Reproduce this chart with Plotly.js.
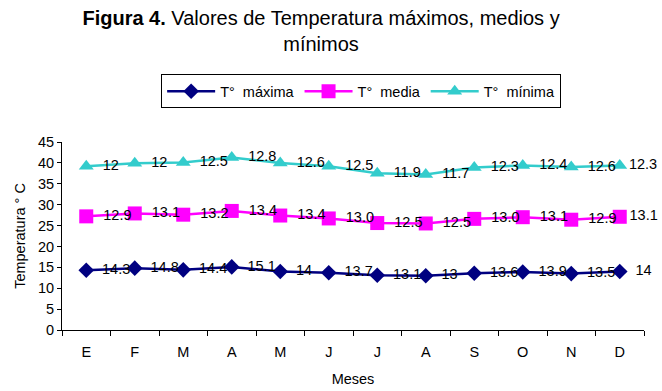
<!DOCTYPE html>
<html>
<head>
<meta charset="utf-8">
<script src="https://cdn.plot.ly/plotly-3.0.1.min.js"></script>
<style>html,body{margin:0;padding:0;background:#fff}</style>
</head>
<body>
<div id="chart" style="width:662px;height:391px"></div>
<script>
// Meses del año (claves únicas para el eje de categorías y texto visible)
const meses = ['E', 'F', 'M', 'A', 'M ', 'J', 'J ', 'A ', 'S', 'O', 'N', 'D'];
const mesesTexto = ['E', 'F', 'M', 'A', 'M', 'J', 'J', 'A', 'S', 'O', 'N', 'D'];

// Valores de cada serie (la gráfica apila las tres series)
const tMaxima = [14.3, 14.8, 14.4, 15.1, 14, 13.7, 13.1, 13, 13.6, 13.9, 13.5, 14];
const tMedia  = [12.9, 13.1, 13.2, 13.4, 13.4, 13.0, 12.5, 12.5, 13.0, 13.1, 12.9, 13.1];
const tMinima = [12, 12, 12.5, 12.8, 12.6, 12.5, 11.9, 11.7, 12.3, 12.4, 12.6, 12.3];

const FONT = 'Liberation Sans, Arial, sans-serif';
const labelFont = {family: FONT, size: 14.5, color: '#000'};

// Etiquetas de datos: separadas del marcador; las largas del final van pegadas al borde
function etiquetas(textos) {
  const n = textos.length;
  return textos.map((t, i) => (i < n - 1 || t.length < 3 ? '\u2002' : '') + t);
}

function serie(nombre, valores, textos, color, simbolo, tam) {
  return {
    type: 'scatter',
    mode: 'lines+markers+text',
    name: nombre,
    x: meses,
    y: valores,
    stackgroup: 'temp',
    fill: 'none',
    text: etiquetas(textos),
    textposition: 'middle right',
    textfont: labelFont,
    cliponaxis: false,
    line: {color: color, width: 2.5},
    marker: {symbol: simbolo, size: tam, color: color},
    hoverinfo: 'skip'
  };
}

const data = [
  serie('T°\u00a0 máxima', tMaxima, tMaxima.map(String), '#000080', 'diamond', 12),
  serie('T°\u00a0 media', tMedia, tMedia.map(v => v.toFixed(1)), '#FF00FF', 'square', 14),
  serie('T°\u00a0 mínima', tMinima, tMinima.map(String), '#33CCCC', 'triangle-up', 13)
];

const layout = {
  width: 662,
  height: 391,
  margin: {l: 62, r: 18, t: 142, b: 61},
  paper_bgcolor: '#fff',
  plot_bgcolor: '#fff',
  font: {family: FONT, size: 14.5, color: '#000'},
  title: {
    text: '<b>Figura 4.</b> Valores de Temperatura máximos, medios y<br>mínimos',
    font: {size: 20, color: '#000'},
    x: 0.485,
    xanchor: 'center',
    y: 0.936,
    yref: 'container',
    yanchor: 'top'
  },
  showlegend: true,
  legend: {
    orientation: 'h',
    x: 0.514,
    xanchor: 'center',
    y: 1.36,
    yanchor: 'top',
    bordercolor: '#000',
    borderwidth: 1,
    bgcolor: '#fff',
    font: {size: 14.5},
    itemwidth: 48,
    tracegroupgap: 0
  },
  xaxis: {
    type: 'category',
    range: [-0.5, 11.5],
    tickmode: 'array',
    tickvals: meses,
    ticktext: mesesTexto,
    tickson: 'boundaries',
    ticks: 'outside',
    ticklen: 5,
    tickcolor: '#000',
    ticklabelstandoff: 9,
    showline: true,
    linecolor: '#000',
    linewidth: 1,
    showgrid: false,
    zeroline: false,
    tickfont: {size: 14.5},
    title: {text: 'Meses', font: {size: 14.5}, standoff: 14}
  },
  yaxis: {
    range: [0, 45],
    dtick: 5,
    ticks: 'outside',
    ticklen: 4,
    tickcolor: '#000',
    showline: true,
    linecolor: '#000',
    linewidth: 1,
    showgrid: false,
    zeroline: false,
    tickfont: {size: 14.5},
    title: {text: 'Temperatura ° C', font: {size: 14.5}, standoff: 8}
  }
};

Plotly.newPlot('chart', data, layout, {displayModeBar: false, staticPlot: true});
</script>
</body>
</html>
